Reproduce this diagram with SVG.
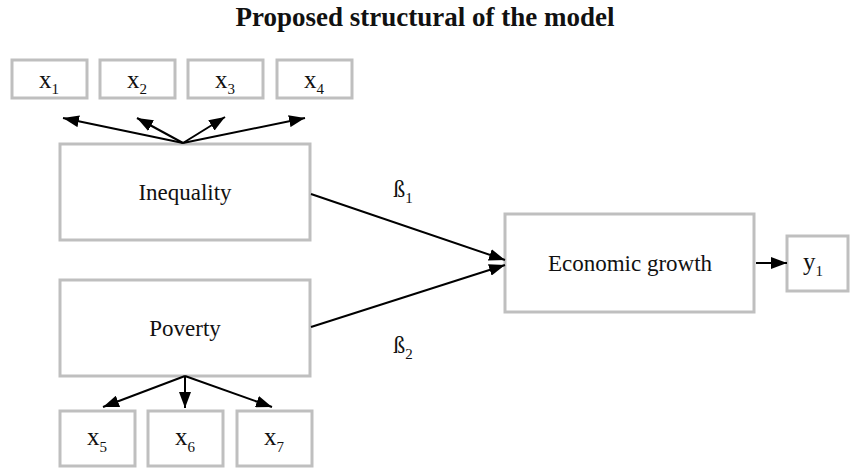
<svg xmlns="http://www.w3.org/2000/svg" width="850" height="468" viewBox="0 0 850 468">
<defs>
<marker id="ah" markerUnits="userSpaceOnUse" markerWidth="16" markerHeight="12" refX="16" refY="6" orient="auto">
<path d="M0,0 L16,6 L0,12 z" fill="#000"/>
</marker>
<style>
.box{fill:#fff;stroke:#bfbfbf;stroke-width:3}
.t{font-family:"Liberation Serif","Times New Roman",serif;fill:#111;text-anchor:middle}
.big{font-size:23px}
.v{font-size:25px}
.sub{font-size:15px}
.c{stroke:#000;stroke-width:2;fill:none;marker-end:url(#ah)}
</style>
</defs>
<rect width="850" height="468" fill="#fff"/>
<text x="425" y="26" class="t" style="font-size:27px;font-weight:bold">Proposed structural of the model</text>

<g id="x1"><rect class="box" x="12" y="60" width="75" height="38"/><text class="t" x="49" y="88"><tspan class="v">x</tspan><tspan class="sub" dy="6">1</tspan></text></g>
<g id="x2"><rect class="box" x="100" y="60" width="75" height="38"/><text class="t" x="137" y="88"><tspan class="v">x</tspan><tspan class="sub" dy="6">2</tspan></text></g>
<g id="x3"><rect class="box" x="188" y="60" width="75" height="38"/><text class="t" x="225" y="88"><tspan class="v">x</tspan><tspan class="sub" dy="6">3</tspan></text></g>
<g id="x4"><rect class="box" x="277" y="60" width="75" height="38"/><text class="t" x="314" y="88"><tspan class="v">x</tspan><tspan class="sub" dy="6">4</tspan></text></g>

<g id="inequality"><rect class="box" x="60" y="144" width="250" height="96"/><text class="t big" x="185" y="200">Inequality</text></g>
<g id="poverty"><rect class="box" x="60" y="280" width="250" height="96"/><text class="t big" x="185" y="336">Poverty</text></g>
<g id="growth"><rect class="box" x="505" y="214" width="249" height="98"/><text class="t big" x="630" y="271">Economic growth</text></g>
<g id="y1"><rect class="box" x="787" y="236" width="61" height="55"/><text class="t" x="813" y="270"><tspan class="v">y</tspan><tspan class="sub" dy="6">1</tspan></text></g>

<g id="x5"><rect class="box" x="60" y="411" width="75" height="55"/><text class="t" x="97" y="445"><tspan class="v">x</tspan><tspan class="sub" dy="7">5</tspan></text></g>
<g id="x6"><rect class="box" x="148" y="411" width="75" height="55"/><text class="t" x="185" y="445"><tspan class="v">x</tspan><tspan class="sub" dy="7">6</tspan></text></g>
<g id="x7"><rect class="box" x="237" y="411" width="75" height="55"/><text class="t" x="274" y="445"><tspan class="v">x</tspan><tspan class="sub" dy="7">7</tspan></text></g>

<g id="connectors">
<line class="c" x1="183" y1="143" x2="63" y2="118"/>
<line class="c" x1="183" y1="143" x2="137" y2="118"/>
<line class="c" x1="183" y1="143" x2="225" y2="117"/>
<line class="c" x1="183" y1="143" x2="305" y2="118"/>
<line class="c" x1="185" y1="376" x2="103" y2="407"/>
<line class="c" x1="185" y1="376" x2="185" y2="408"/>
<line class="c" x1="185" y1="376" x2="272" y2="407"/>
<line class="c" x1="311" y1="194" x2="505" y2="260"/>
<line class="c" x1="311" y1="327" x2="505" y2="265"/>
<line class="c" x1="756" y1="263" x2="787" y2="263"/>
<text class="t" x="403" y="197"><tspan style="font-size:24px">ß</tspan><tspan class="sub" dy="6">1</tspan></text>
<text class="t" x="403" y="353"><tspan style="font-size:24px">ß</tspan><tspan class="sub" dy="6">2</tspan></text>
</g>
</svg>
